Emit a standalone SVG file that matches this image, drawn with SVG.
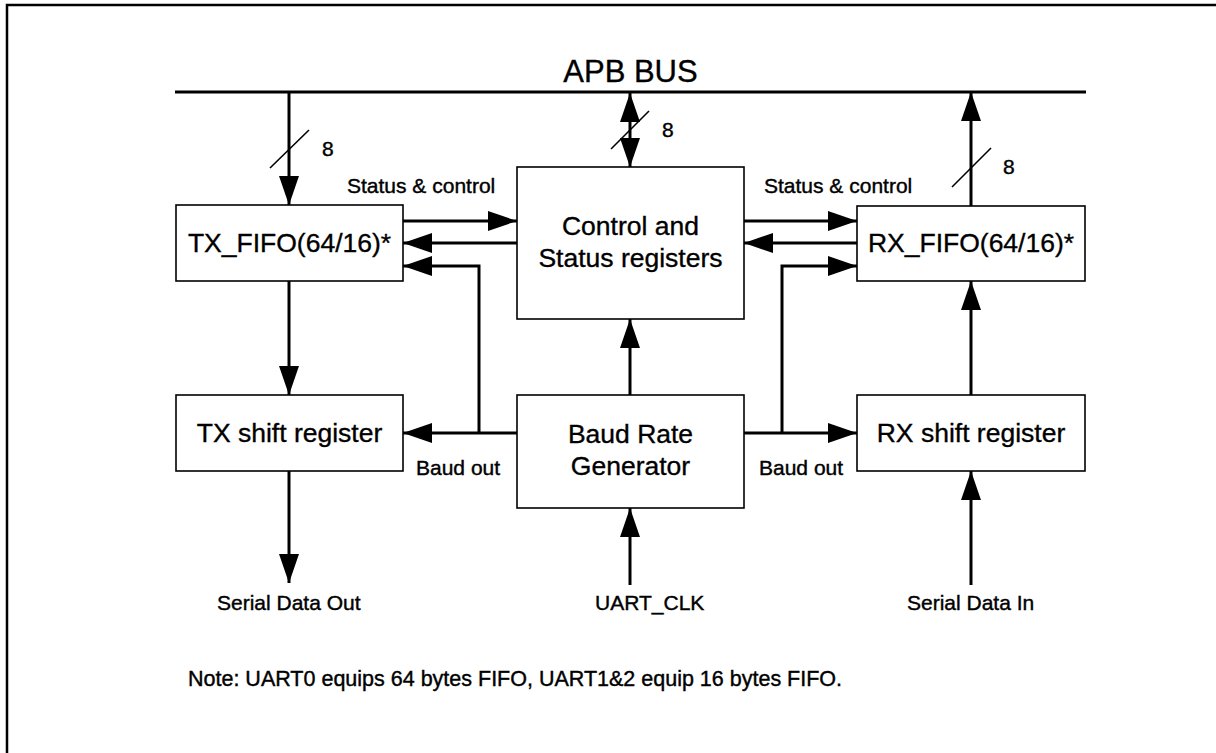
<svg xmlns="http://www.w3.org/2000/svg" width="1216" height="753" viewBox="0 0 1216 753">
<style>
.box{fill:#fff;stroke:#000;stroke-width:1.6}
.lbl{font-family:"Liberation Sans",Arial,sans-serif;font-size:26.5px;fill:#000;stroke:#000;stroke-width:0.35;text-anchor:middle}
.sm{font-family:"Liberation Sans",Arial,sans-serif;font-size:21px;fill:#000;stroke:#000;stroke-width:0.4}
.con{fill:none;stroke:#000;stroke-width:3}
.slash{stroke:#000;stroke-width:1.6}
</style>
<defs>
<marker id="ah" markerUnits="userSpaceOnUse" markerWidth="29" markerHeight="20" refX="29" refY="10" orient="auto-start-reverse" viewBox="0 0 29 20">
<path d="M0,0 L29,10 L0,20 z" fill="#000"/>
</marker>
</defs>
<rect width="1216" height="753" fill="#fff"/>
<path d="M7,753 V5 H1216" fill="none" stroke="#000" stroke-width="2.5"/>
<text x="630.5" y="82" class="lbl" style="font-size:31px">APB BUS</text>

<g id="connectors">
<path class="con" d="M175,92 H1086"/>
<path class="con" d="M289,92 V205" marker-end="url(#ah)"/>
<path class="con" d="M630,93 V167" marker-start="url(#ah)" marker-end="url(#ah)"/>
<path class="con" d="M971,206 V92" marker-end="url(#ah)"/>
<path class="con" d="M403,221 H517" marker-end="url(#ah)"/>
<path class="con" d="M517,243 H403" marker-end="url(#ah)"/>
<path class="con" d="M479,433 V266 H403" marker-end="url(#ah)"/>
<path class="con" d="M744,221 H857" marker-end="url(#ah)"/>
<path class="con" d="M857,243 H744" marker-end="url(#ah)"/>
<path class="con" d="M782,433 V266 H857" marker-end="url(#ah)"/>
<path class="con" d="M289,281 V395" marker-end="url(#ah)"/>
<path class="con" d="M517,433 H403" marker-end="url(#ah)"/>
<path class="con" d="M630,395 V319" marker-end="url(#ah)"/>
<path class="con" d="M744,433 H857" marker-end="url(#ah)"/>
<path class="con" d="M971,395 V281" marker-end="url(#ah)"/>
<path class="con" d="M289,471 V583" marker-end="url(#ah)"/>
<path class="con" d="M630,585 V508" marker-end="url(#ah)"/>
<path class="con" d="M971,585 V471" marker-end="url(#ah)"/>
<line class="slash" x1="270" y1="168" x2="309" y2="130"/>
<line class="slash" x1="611" y1="149" x2="649" y2="111"/>
<line class="slash" x1="952" y1="187" x2="991" y2="148"/>
<text class="sm" x="322" y="156">8</text>
<text class="sm" x="662" y="137">8</text>
<text class="sm" x="1003" y="174">8</text>
<text class="sm" x="347" y="193">Status &amp; control</text>
<text class="sm" x="764" y="193">Status &amp; control</text>
<text class="sm" x="416" y="475">Baud out</text>
<text class="sm" x="759" y="475">Baud out</text>
<text class="sm" x="217" y="610">Serial Data Out</text>
<text class="sm" x="595" y="610">UART_CLK</text>
<text class="sm" x="907" y="610">Serial Data In</text>
</g>

<g id="tx_fifo">
<rect class="box" x="176" y="205" width="227" height="76"/>
<text class="lbl" x="289.5" y="252">TX_FIFO(64/16)*</text>
</g>
<g id="control_status">
<rect class="box" x="517" y="167" width="227" height="152"/>
<text class="lbl" x="630.5" y="235">Control and</text>
<text class="lbl" x="630.5" y="267">Status registers</text>
</g>
<g id="rx_fifo">
<rect class="box" x="857" y="206" width="228" height="75"/>
<text class="lbl" x="971" y="252">RX_FIFO(64/16)*</text>
</g>
<g id="tx_shift">
<rect class="box" x="176" y="395" width="227" height="76"/>
<text class="lbl" x="289.5" y="442">TX shift register</text>
</g>
<g id="baud_gen">
<rect class="box" x="517" y="395" width="227" height="113"/>
<text class="lbl" x="630.5" y="443">Baud Rate</text>
<text class="lbl" x="630.5" y="475">Generator</text>
</g>
<g id="rx_shift">
<rect class="box" x="857" y="395" width="228" height="76"/>
<text class="lbl" x="971" y="442">RX shift register</text>
</g>
<text class="sm" x="188" y="686" style="font-size:21.5px">Note: UART0 equips 64 bytes FIFO, UART1&amp;2 equip 16 bytes FIFO.</text>
</svg>
